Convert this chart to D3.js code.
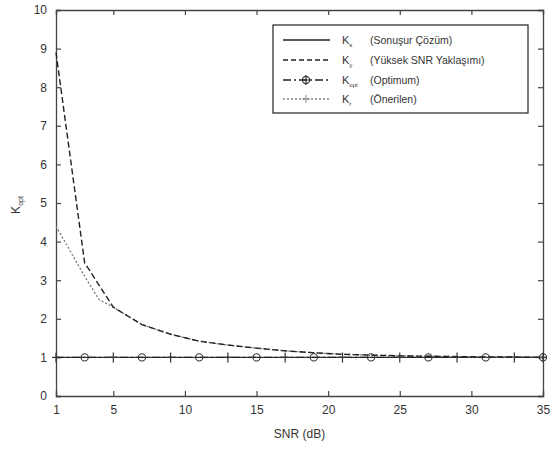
<!DOCTYPE html>
<html>
<head>
<meta charset="utf-8">
<script src="https://cdn.jsdelivr.net/npm/d3@7"></script>
<style>
  body { margin: 0; background: #fff; }
  text { font-family: "Liberation Sans", Arial, sans-serif; fill: #333; }
</style>
</head>
<body>
<script>
// data
var snr = [1, 3, 5, 7, 9, 11, 13, 15, 17, 19, 21, 23, 25, 27, 29, 31, 33, 35];
var kSonusur = [1, 1, 1, 1, 1, 1, 1, 1, 1, 1, 1, 1, 1, 1, 1, 1, 1, 1];
var kYuksek = [8.9, 3.45, 2.3, 1.85, 1.6, 1.42, 1.32, 1.24, 1.17, 1.12, 1.08, 1.06, 1.04, 1.03, 1.02, 1.01, 1.01, 1.0];
var kOpt = [1, 1, 1, 1, 1, 1, 1, 1, 1, 1, 1, 1, 1, 1, 1, 1, 1, 1];
var snrOneri = [1, 2, 3, 4, 5, 7, 9, 11, 13, 15, 17, 19, 21, 23, 25, 27, 29, 31, 33, 35];
var kOneri = [4.4, 3.75, 3.1, 2.5, 2.3, 1.85, 1.6, 1.42, 1.32, 1.24, 1.17, 1.12, 1.08, 1.06, 1.04, 1.03, 1.02, 1.01, 1.01, 1.0];
var xTicks = [1, 5, 10, 15, 20, 25, 30, 35];
var yTicks = [0, 1, 2, 3, 4, 5, 6, 7, 8, 9, 10];
var legendNames = ["(Sonuşur Çözüm)", "(Yüksek SNR Yaklaşımı)", "(Optimum)", "(Önerilen)"];
var legendSubs = ["s", "y", "opt", "r"];

var W = 553, H = 449;
var padL = 56, padR = 543, padT = 10, padB = 396;

var svg = d3.select("body").append("svg")
    .attr("width", W)
    .attr("height", H);

var x = d3.scaleLinear().domain([1, 35]).range([padL, padR]);
var y = d3.scaleLinear().domain([0, 10]).range([padB, padT]);

// axes box with inward ticks (matlab style)
var xAxis = svg.append("g").attr("transform", "translate(0," + padB + ")")
    .call(d3.axisBottom(x).tickValues(xTicks).tickSize(-5).tickPadding(9));
var xTop = svg.append("g").attr("transform", "translate(0," + padT + ")")
    .call(d3.axisTop(x).tickValues(xTicks).tickSize(-5).tickFormat(""));
var yAxis = svg.append("g").attr("transform", "translate(" + padL + ",0)")
    .call(d3.axisLeft(y).tickValues(yTicks).tickSize(-5).tickPadding(9));
var yRight = svg.append("g").attr("transform", "translate(" + padR + ",0)")
    .call(d3.axisRight(y).tickValues(yTicks).tickSize(-5).tickFormat(""));

[xAxis, xTop, yAxis, yRight].forEach(function(g) {
  g.select(".domain").attr("stroke", "#444").attr("stroke-width", 1.3);
  g.selectAll(".tick line").attr("stroke", "#444").attr("stroke-width", 1.2);
  g.selectAll(".tick text").attr("font-size", 12).attr("fill", "#333")
    .attr("font-family", "Liberation Sans, Arial, sans-serif");
});

// axis labels
svg.append("text")
    .attr("x", (padL + padR) / 2).attr("y", 438)
    .attr("text-anchor", "middle").attr("font-size", 12)
    .text("SNR (dB)");

var yl = svg.append("text")
    .attr("transform", "translate(20,205) rotate(-90)")
    .attr("text-anchor", "middle").attr("font-size", 12);
yl.append("tspan").text("K");
yl.append("tspan").attr("font-size", 7).attr("dy", 3).text("opt");

var plot = svg.append("g");

function pts(xs, ys) {
  return xs.map(function(v, i) { return [v, ys[i]]; }).filter(function(p) { return p[1] != null; });
}
var line = d3.line().x(function(d) { return x(d[0]); }).y(function(d) { return y(d[1]); });

// sonuşur: solid
plot.append("path").datum(pts(snr, kSonusur))
    .attr("d", line).attr("fill", "none")
    .attr("stroke", "#333").attr("stroke-width", 1.1);

// optimum: dash-dot line with markers
plot.append("path").datum(pts(snr, kOpt))
    .attr("d", line).attr("fill", "none")
    .attr("stroke", "#222").attr("stroke-width", 1.4)
    .attr("stroke-dasharray", "8,3,2,3");

var optPts = pts(snr, kOpt);
plot.selectAll("circle.opt").data(optPts.filter(function(d, i) { return i % 2 === 1 || i === optPts.length - 1; }))
  .enter().append("circle")
    .attr("cx", function(d) { return x(d[0]); })
    .attr("cy", function(d) { return y(d[1]); })
    .attr("r", 3.6).attr("fill", "none")
    .attr("stroke", "#333").attr("stroke-width", 1.1);
plot.selectAll("path.plus").data(optPts.filter(function(d, i) { return i % 2 === 0 || i === optPts.length - 1; }))
  .enter().append("path")
    .attr("d", function(d) {
      var cx = x(d[0]), cy = y(d[1]);
      return "M" + (cx - 4) + "," + cy + "H" + (cx + 4) + "M" + cx + "," + (cy - 5) + "V" + (cy + 5);
    })
    .attr("stroke", "#333").attr("stroke-width", 1.2);

// önerilen: light dotted
plot.append("path").datum(pts(snrOneri, kOneri))
    .attr("d", line).attr("fill", "none")
    .attr("stroke", "#777").attr("stroke-width", 1.3)
    .attr("stroke-dasharray", "2,2");

// yüksek snr: dashed
plot.append("path").datum(pts(snr, kYuksek))
    .attr("d", line).attr("fill", "none")
    .attr("stroke", "#222").attr("stroke-width", 1.4)
    .attr("stroke-dasharray", "6,3");

// legend
var lg = svg.append("g");
lg.append("rect")
    .attr("x", 273).attr("y", 25).attr("width", 255).attr("height", 88)
    .attr("fill", "#fff").attr("stroke", "#333").attr("stroke-width", 1.3);

var styles = [
  { dash: null, color: "#222", w: 1.5 },
  { dash: "5,3", color: "#222", w: 1.5 },
  { dash: "8,3,2,3", color: "#222", w: 1.3 },
  { dash: "2,2", color: "#888", w: 1.3 }
];
var rowY = [40, 60, 80, 99];

legendNames.forEach(function(name, i) {
  var ry = rowY[i];
  lg.append("line")
      .attr("x1", 283).attr("x2", 330).attr("y1", ry).attr("y2", ry)
      .attr("stroke", styles[i].color).attr("stroke-width", styles[i].w)
      .attr("stroke-dasharray", styles[i].dash);
  if (i === 2) {
    lg.append("circle").attr("cx", 306).attr("cy", ry).attr("r", 3.6)
        .attr("fill", "none").attr("stroke", "#333").attr("stroke-width", 1.1);
    lg.append("path").attr("d", "M302," + ry + "H310M306," + (ry - 5) + "V" + (ry + 5))
        .attr("stroke", "#333").attr("stroke-width", 1.1);
  }
  if (i === 3) {
    lg.append("path").attr("d", "M302," + ry + "H310M306," + (ry - 4) + "V" + (ry + 4))
        .attr("stroke", "#888").attr("stroke-width", 1);
  }
  var k = lg.append("text").attr("x", 342).attr("y", ry + 4).attr("font-size", 11);
  k.append("tspan").text("K");
  k.append("tspan").attr("font-size", 6).attr("dy", 3).text(legendSubs[i]);
  lg.append("text").attr("x", 370).attr("y", ry + 4).attr("font-size", 10.5)
      .text(name);
});
</script>
</body>
</html>
